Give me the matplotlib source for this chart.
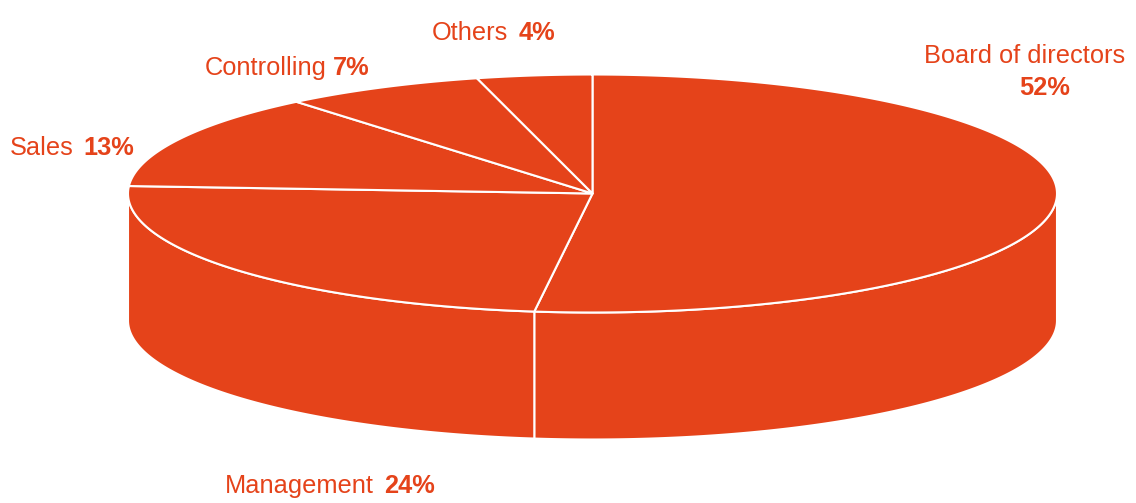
import numpy as np
import matplotlib
matplotlib.use("Agg")
import matplotlib.pyplot as plt
from matplotlib.patches import Polygon

# ---- data ----
categories = ["Board of directors", "Management", "Sales", "Controlling", "Others"]
shares = [52, 24, 13, 7, 4]
label_values = ["52%", "24%", "13%", "7%", "4%"]

# ---- style / layout ----
COLOR = "#E5431A"
W, H = 1136, 503
cx, cy, a, b, depth = 592.5, 193.5, 464.5, 119.0, 127.0
FONT = ["Liberation Sans Narrow", "Liberation Sans", "DejaVu Sans"]
FS = 18.3

fig = plt.figure(figsize=(W / 100, H / 100), dpi=100)
ax = fig.add_axes([0, 0, 1, 1])
ax.set_xlim(0, W)
ax.set_ylim(H, 0)
ax.axis("off")

def pt(t, dy=0.0):
    r = np.radians(t)
    return cx + a * np.cos(r), cy - b * np.sin(r) + dy

# slice angle ranges (clockwise from 12 o'clock)
total = float(sum(shares))
starts, ends = [], []
cur = 90.0
for v in shares:
    span = 360.0 * v / total
    starts.append(cur)
    ends.append(cur - span)
    cur -= span

# side walls (front half only)
for s, e in zip(starts, ends):
    for k in (0, -360):
        lo, hi = max(e, -180 + k), min(s, 0 + k)
        if hi > lo:
            ts = np.linspace(hi, lo, 200)
            top = [pt(t) for t in ts]
            bot = [pt(t, depth) for t in ts[::-1]]
            ax.add_patch(Polygon(top + bot, closed=True, facecolor=COLOR,
                                 edgecolor="white", linewidth=1.5, joinstyle="round"))

# top slices
for s, e in zip(starts, ends):
    ts = np.linspace(s, e, 300)
    verts = [(cx, cy)] + [pt(t) for t in ts]
    ax.add_patch(Polygon(verts, closed=True, facecolor=COLOR,
                         edgecolor="white", linewidth=1.5, joinstyle="round"))

# labels
fig.canvas.draw()
renderer = fig.canvas.get_renderer()

def mixed(x, y, name, val, gap=10):
    t1 = ax.text(x, y, name, fontsize=FS, family=FONT, color=COLOR,
                 ha="left", va="baseline")
    bb = t1.get_window_extent(renderer)
    ax.text(x + bb.width + gap, y, val, fontsize=FS, family=FONT, color=COLOR,
            fontweight="bold", ha="left", va="baseline")

mixed(432, 40, categories[4], label_values[4])
mixed(205, 75, categories[3], label_values[3], gap=6)
mixed(10, 155, categories[2], label_values[2])
mixed(225, 493, categories[1], label_values[1])
ax.text(1125, 63, categories[0], fontsize=FS, family=FONT, color=COLOR,
        ha="right", va="baseline")
ax.text(1045, 95, label_values[0], fontsize=FS, family=FONT, color=COLOR,
        fontweight="bold", ha="center", va="baseline")

fig.savefig("out.png", dpi=100)
